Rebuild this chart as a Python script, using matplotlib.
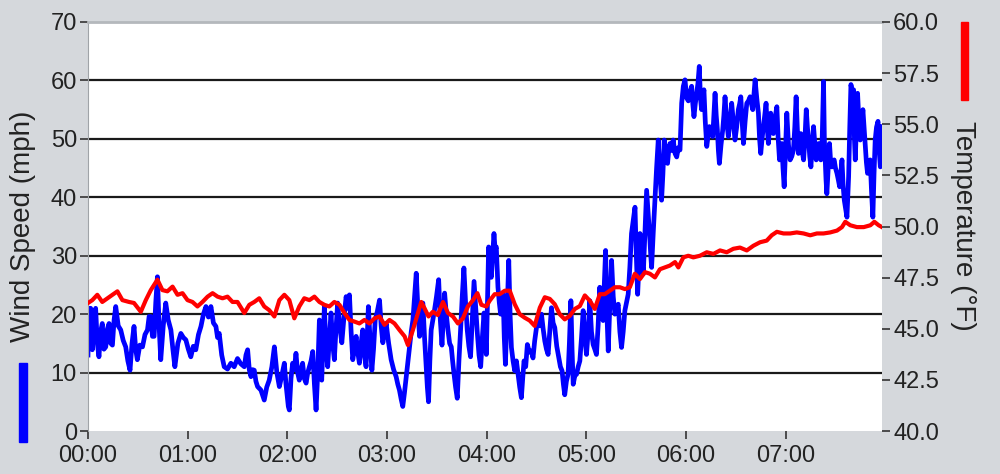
import numpy as np
import matplotlib
matplotlib.use("Agg")
import matplotlib.pyplot as plt
from matplotlib.patches import Rectangle
from matplotlib.ticker import FuncFormatter, MultipleLocator

plt.rcParams['font.family'] = ['Liberation Sans', 'DejaVu Sans']

# wind speed, minutes after 00:00 and mph (turning points)
wind_min = [
    0, 0.6, 1.6, 2.6, 3.6, 4.6, 5.6, 6.6, 7.6, 8.6, 9.6, 10.7, 11.7, 12.7, 13.7, 14.7, 15.7, 16.7,
    18.2, 19.7, 21.2, 22.7, 24.0, 25.3, 26.5, 27.7, 28.7, 29.7, 31.2, 32.8, 34.3, 35.8, 36.8, 37.8,
    38.8, 39.8, 40.8, 41.8, 42.8, 43.8, 45.3, 46.8, 48.3, 49.9, 51.1, 52.3, 54.1, 55.9, 57.4, 58.9,
    60.4, 61.9, 63.4, 64.9, 66.5, 68.0, 69.5, 71.0, 72.5, 74.0, 75.5, 77.0, 78.0, 79.0, 80.5, 82.0,
    84.0, 86.0, 88.0, 90.0, 92.0, 94.1, 95.1, 96.1, 97.1, 98.1, 99.1, 100.1, 101.1, 102.1, 104.1,
    106.1, 107.6, 109.1, 110.7, 112.2, 113.7, 115.2, 116.7, 118.2, 119.2, 120.6,
    121.2, 122.2, 123.2, 124.2, 125.2, 126.2, 127.2, 128.2, 129.2, 130.2, 131.3, 132.3, 133.3,
    134.3, 135.3, 136.3, 137.3, 138.3, 139.3, 140.0, 140.7, 141.5, 142.3, 143.3, 144.3, 145.3,
    146.3, 147.3, 148.3, 149.3, 150.3, 151.5, 152.8, 154.1, 155.4, 156.4, 157.4, 158.4, 159.4,
    160.4, 161.4, 162.4, 163.4, 164.4, 165.4, 166.4, 167.4, 168.1, 168.8, 169.9, 170.9, 171.9,
    172.9, 174.2, 175.5, 176.5, 177.5, 178.5, 179.5, 181.0, 182.5, 184.0, 185.5, 186.5, 187.5,
    188.5, 189.5, 190.5, 191.6, 192.6, 193.6, 194.6, 195.6, 196.6, 197.6, 198.6, 199.6, 200.6,
    201.6, 202.6, 203.6, 204.3, 205.0, 205.8, 206.6, 207.6, 208.6, 209.8, 211.1, 212.1, 213.1,
    213.9, 214.7, 215.7, 216.7, 217.7, 218.7, 219.5, 220.3, 221.3, 222.3, 223.3, 224.3, 225.3,
    226.3, 227.3, 228.3, 229.3, 230.3, 231.3, 232.4, 233.4, 234.4, 235.4, 236.4, 237.4, 238.4,
    239.8, 240.5, 241.2, 242.0, 242.8, 243.6, 244.4, 245.1, 245.8, 246.8, 247.6, 248.4, 249.2,
    249.9, 250.6, 251.3, 252.3, 253.3, 254.1, 254.9, 255.9, 256.9, 257.9, 258.9, 259.9, 260.9,
    261.7, 262.5, 263.5, 264.5, 265.7, 266.9, 267.9, 268.9, 269.9, 270.9, 271.9, 273.0, 274.0,
    275.0, 276.0, 277.0, 278.0, 279.0, 280.0, 281.0, 282.2, 283.4, 284.4, 285.4, 286.2, 287.0,
    288.0, 289.0, 289.8, 290.7, 291.4, 292.1, 293.1, 294.1, 295.1, 296.1, 297.1, 298.1, 299.1,
    300.1, 301.1, 302.1, 303.1, 304.1, 305.1, 306.1, 307.1, 308.1, 309.1, 310.1, 310.8, 311.6,
    312.4, 313.2, 314.2, 315.2, 316.2, 317.2, 318.2, 319.2, 320.2, 321.2, 322.2, 323.2, 324.2,
    325.2, 326.2, 327.2, 328.2, 329.3, 330.1, 330.9, 331.6, 332.3, 333.3, 334.3, 335.3, 336.3,
    337.3, 338.3, 338.8, 339.3, 340.3, 341.3, 342.3, 343.3, 344.3, 345.3, 346.1, 346.9, 347.9,
    348.9, 349.6, 350.3, 351.3, 352.3, 353.4, 354.4, 355.4, 356.4, 357.4, 358.4, 359.4, 360.4,
    361.4, 362.4, 363.4, 364.1, 364.8, 365.6, 366.4, 367.2, 368.0, 368.7, 369.4, 370.1, 370.8,
    371.6, 372.5, 373.3, 374.1, 375.1, 376.1, 376.8, 377.5, 378.2, 378.9, 379.5, 380.1, 381.1,
    382.1, 382.8, 383.5, 384.5, 385.5, 386.5, 387.5, 388.5, 389.5, 390.5, 391.5, 392.3, 393.0,
    393.8, 394.6, 395.6, 396.6, 397.6, 398.6, 399.4, 400.2, 400.9, 401.6, 402.6, 403.6, 404.3,
    405.0, 405.8, 406.6, 407.4, 408.2, 408.9, 409.6, 410.3, 411.0, 411.8, 412.6, 413.6, 414.7,
    415.5, 416.3, 417.0, 417.7, 418.4, 419.1, 419.9, 420.7, 421.7, 422.7, 423.7, 424.7, 425.5,
    426.3, 427.0, 427.7, 428.4, 429.1, 429.9, 430.8, 431.6, 432.4, 433.1, 433.8, 434.5, 435.2,
    436.0, 436.8, 437.6, 438.4, 439.1, 439.8, 440.5, 441.2, 442.0, 442.8, 443.3, 443.8, 444.3,
    444.8, 445.6, 446.4, 447.1, 447.8, 448.5, 449.2, 450.0, 450.9, 451.7, 452.5, 453.2, 453.9,
    454.6, 455.3, 456.1, 456.9, 457.4, 457.9, 458.6, 459.3, 460.1, 460.9, 461.4, 461.9, 462.6,
    463.3, 464.1, 464.9, 465.7, 466.5, 467.2, 467.9, 468.6, 469.3, 470.1, 470.9, 471.7, 472.5,
    473.2, 473.9, 474.7, 475.6, 476.3, 477.0, 477.6,
]
wind_mph = [
    13.0, 21.0, 21.0, 13.9, 19.0, 21.0, 15.0, 12.7, 17.0, 18.4, 14.0, 14.4, 17.5, 18.4, 15.0, 14.7, 19.0, 21.3,
    18.0, 17.3, 15.5, 14.4, 12.0, 10.4, 15.0, 17.9, 14.0, 12.2, 14.7, 14.4, 16.5, 17.3, 19.6, 19.6,
    16.2, 16.2, 22.0, 26.4, 18.0, 12.2, 18.0, 21.9, 19.0, 17.3, 14.0, 11.0, 15.0, 16.7, 16.0, 15.6,
    14.0, 12.7, 14.5, 13.9, 16.5, 17.9, 20.0, 21.3, 19.5, 21.3, 18.5, 17.9, 16.0, 16.7, 13.0, 11.0,
    10.6, 11.6, 11.0, 12.4, 11.5, 11.0, 13.0, 13.9, 10.5, 9.3, 10.5, 10.4, 8.5, 7.6, 7.0,
    5.3, 7.5, 8.7, 11.0, 14.4, 10.0, 7.6, 9.5, 11.6, 8.0, 4.2,
    3.6, 9.0, 11.6, 10.5, 13.3, 10.0, 8.7, 10.5, 11.6, 9.0, 8.2, 10.0, 11.0,
    12.0, 13.6, 8.0, 3.6, 10.0, 19.0, 12.0, 8.7, 15.0, 21.3, 14.0, 11.0, 16.0,
    20.2, 15.0, 12.2, 17.5, 21.9, 18.0, 15.1, 19.5, 23.0, 21.0, 23.3, 17.0, 12.2,
    14.0, 16.2, 13.5, 11.6, 15.0, 17.3, 13.0, 11.0, 16.0, 21.3, 15.0, 10.4, 14.0,
    19.0, 20.5, 22.4, 18.0, 15.1, 17.0, 18.4, 15.0, 12.2, 10.5, 9.3, 8.0, 7.0,
    5.5, 4.2, 6.5, 9.3, 12.0, 14.4, 17.0, 19.0, 23.0, 27.0, 21.0, 16.2, 19.0,
    21.9, 16.0, 11.0, 7.5, 5.0, 12.0, 17.3, 19.0, 20.7, 23.0, 25.9, 19.0, 14.7,
    19.0, 23.6, 20.0, 17.3, 15.0, 14.4, 12.0, 9.9, 7.5, 5.6, 12.0, 17.3, 23.0,
    27.9, 22.0, 17.3, 14.5, 12.7, 19.0, 25.6, 21.0, 16.7, 13.0, 11.0, 16.0, 20.2,
    13.1, 22.0, 31.5, 28.0, 26.3, 30.0, 33.8, 31.0, 31.5, 24.6, 22.0, 20.0, 22.5,
    23.4, 16.0, 11.4, 20.0, 29.2, 20.0, 14.3, 12.0, 10.3, 12.0, 9.7, 7.5, 5.7,
    9.0, 12.0, 11.0, 14.8, 13.5, 13.7, 12.5, 15.4, 17.5, 19.4, 18.0, 20.0, 17.5,
    15.4, 14.0, 13.1, 17.0, 21.1, 18.5, 17.7, 14.5, 12.6, 11.0, 10.3, 8.0, 6.2,
    8.5, 9.7, 15.0, 22.3, 14.0, 8.0, 9.5, 9.7, 11.0, 12.0, 16.0, 20.6, 16.0,
    13.1, 17.0, 22.3, 17.0, 14.8, 14.0, 13.1, 18.0, 24.6, 21.0, 18.9, 25.0, 30.9,
    20.0, 13.7, 22.0, 29.2, 23.0, 20.0, 21.0, 21.7, 17.0, 14.3, 17.0, 20.6, 22.0,
    23.4, 28.0, 33.8, 36.0, 38.3, 30.0, 23.4, 28.0, 33.8, 30.0, 26.9, 34.0, 41.2,
    37.0, 32.6, 30.0, 28.0, 34.0, 39.5, 45.0, 49.8, 44.0, 39.5, 44.0, 49.8, 47.0,
    45.8, 48.0, 49.2, 48.0, 49.8, 47.5, 46.9, 48.5, 48.1, 56.1, 59.0, 60.1, 57.0,
    56.5, 58.0, 59.0, 56.0, 53.8, 56.0, 57.8, 59.5, 62.4, 57.0, 55.0, 57.0, 58.4,
    53.0, 48.7, 50.5, 52.1, 51.0, 50.4, 54.0, 57.8, 54.0, 51.5, 48.0, 45.8, 49.0,
    51.5, 54.0, 57.2, 53.0, 50.4, 53.0, 56.1, 53.0, 49.8, 52.0, 55.0, 56.0, 57.2,
    53.0, 49.2, 53.0, 56.1, 56.5, 57.2, 56.0, 55.0, 57.5, 60.1, 57.0, 54.4, 50.0,
    47.5, 50.0, 52.1, 54.0, 56.1, 52.0, 49.2, 52.0, 54.4, 52.0, 50.9, 53.5, 55.5,
    50.0, 46.4, 48.0, 49.2, 45.0, 41.8, 48.0, 54.4, 49.0, 46.4, 47.0, 48.1, 52.0,
    57.2, 52.0, 47.5, 49.0, 50.9, 48.0, 46.4, 50.0, 55.0, 52.0, 49.8, 47.0, 45.2,
    49.0, 52.1, 49.0, 46.4, 48.0, 49.2, 47.0, 46.4, 50.0, 59.8, 50.0, 46.4, 43.0,
    40.6, 45.0, 49.2, 46.0, 45.2, 46.0, 46.4, 45.0, 44.1, 43.0, 41.8, 44.0, 46.4,
    42.0, 39.5, 38.0, 36.6, 40.0, 43.5, 52.0, 59.3, 58.0, 58.4, 50.0, 46.4, 52.0,
    57.8, 53.0, 49.8, 52.0, 55.0, 52.0, 49.2, 46.0, 44.1, 45.0, 46.4, 41.0, 36.6,
    44.0, 49.8, 52.0, 53.0, 48.0, 45.2, 52.1,
]

# temperature, minutes after 00:00 and deg F
temp_min = [
    0, 2.6, 5.6, 8.6, 11.7, 14.7, 17.7, 20.7, 24.7, 27.7, 31.8, 34.8, 37.8, 41.8, 44.8, 47.8,
    50.9, 53.9, 56.9, 59.9, 62.9, 65.9, 68.9, 72.0, 75.0, 78.0, 81.0, 84.0, 87.0, 90.0, 94.1,
    97.1, 100.1, 103.1, 106.1, 109.1, 112.2, 115.2, 118.2, 121.2, 124.2, 127.2, 130.2, 133.3,
    136.3, 139.3, 142.3, 145.3, 148.3, 151.4, 154.4, 157.4, 160.4, 163.4, 166.4, 169.4, 172.5,
    175.5, 178.5, 181.5, 184.5, 187.5, 190.6, 192.6, 195.6, 198.6, 200.6, 202.6, 205.0, 207.6,
    210.6, 213.7, 216.7, 219.7, 222.7, 225.7, 228.7, 231.8, 234.4, 236.8, 239.8, 241.8, 244.8,
    247.8, 250.9, 253.9, 256.9, 259.9, 262.9, 265.9, 268.9, 272.0, 275.0, 278.0, 281.0, 284.0,
    287.0, 290.0, 293.1, 296.1, 299.1, 302.1, 305.1, 308.1, 311.1, 314.1, 317.2, 320.2, 323.2,
    326.2, 329.2, 332.3, 335.3, 338.3, 341.3, 344.3, 347.3, 350.3, 353.4, 355.4, 358.4, 361.4,
    364.4, 368.4, 372.5, 376.5, 380.5, 384.5, 388.5, 392.5, 396.6, 400.6, 404.6, 408.6, 411.6,
    414.7, 418.7, 422.7, 426.7, 430.8, 434.8, 438.8, 442.8, 446.8, 450.9, 453.9, 455.9, 458.9,
    462.9, 467.0, 471.0, 473.4, 476.0, 478.0,
]
temp_f = [
    46.26, 46.40, 46.66, 46.31, 46.49, 46.66, 46.83, 46.40, 46.31, 46.26, 45.83, 46.40, 46.89, 47.40, 46.89, 46.83,
    47.06, 46.66, 46.74, 46.40, 46.31, 46.09, 46.31, 46.57, 46.74, 46.57, 46.49, 46.57, 46.31, 46.31, 45.77,
    46.17, 46.31, 46.49, 46.09, 45.91, 45.60, 46.40, 46.66, 46.40, 45.51, 46.09, 46.49, 46.40,
    46.57, 46.31, 46.17, 46.09, 46.31, 46.17, 45.77, 45.43, 45.35, 45.26, 45.43, 45.26, 45.51,
    45.60, 45.19, 45.43, 45.26, 44.94, 44.63, 44.20, 44.94, 45.77, 46.31, 46.00, 45.60, 45.83,
    45.67, 46.31, 45.77, 45.60, 45.26, 45.51, 46.09, 46.40, 46.74, 46.17, 46.09, 46.37, 46.69,
    46.69, 46.86, 46.86, 46.20, 45.71, 45.54, 45.40, 45.14, 46.03, 46.54, 46.46, 46.20, 45.71,
    45.46, 45.63, 45.97, 46.11, 46.63, 46.37, 45.97, 46.69, 46.69, 46.86, 47.03, 47.03, 46.94,
    47.03, 47.69, 47.43, 47.77, 47.69, 47.51, 47.91, 48.00, 48.09, 48.26, 48.00, 48.49, 48.57,
    48.49, 48.57, 48.74, 48.66, 48.83, 48.74, 48.91, 48.97, 48.83, 49.06, 49.23, 49.31, 49.57,
    49.74, 49.66, 49.66, 49.71, 49.66, 49.57, 49.66, 49.66, 49.71, 49.80, 49.97, 50.23, 50.06,
    49.97, 49.97, 50.06, 50.23, 50.06, 49.97,
]

wind_ticks = [0, 10, 20, 30, 40, 50, 60, 70]
temp_ticks = [40.0, 42.5, 45.0, 47.5, 50.0, 52.5, 55.0, 57.5, 60.0]
hour_ticks = [0, 60, 120, 180, 240, 300, 360, 420]

bg = '#d5d8dc'
txt = '#222222'

fig = plt.figure(figsize=(10, 4.74), dpi=100, facecolor=bg)
ax = fig.add_axes([0.088, 0.0907, 0.794, 0.8629])
ax.set_facecolor('white')

ax.plot(wind_min, wind_mph, color='#0000ff', linewidth=3.4, solid_joinstyle='round')
ax.set_xlim(0, 478)
ax.set_ylim(0, 70)
ax.set_yticks(wind_ticks)
ax.set_xticks(hour_ticks)
ax.xaxis.set_major_formatter(FuncFormatter(lambda v, p: '%02d:%02d' % (v // 60, v % 60)))

# horizontal grid only, no line on 0 and 70
for g in wind_ticks[1:-1]:
    ax.axhline(g, color='#1a1a1a', linewidth=1.6, zorder=0.5)

for s in ['right', 'bottom']:
    ax.spines[s].set_visible(False)
ax.spines['left'].set_color('#a0a4a8')
ax.spines['top'].set_color('#b4b8bc')
ax.spines['top'].set_linewidth(2)
ax.tick_params(axis='both', direction='out', length=6, width=1.2, color='#333333',
               labelsize=17, labelcolor=txt, pad=2)
ax.tick_params(axis='x', pad=4)

ax2 = ax.twinx()
ax2.plot(temp_min, temp_f, color='#ff0000', linewidth=3.0)
ax2.set_ylim(40, 60)
ax2.set_yticks(temp_ticks)
ax2.yaxis.set_major_formatter(FuncFormatter(lambda v, p: '%.1f' % v))
for s in ax2.spines.values():
    s.set_visible(False)
ax2.tick_params(axis='y', direction='out', length=6, width=1.2, color='#333333',
                labelsize=17, labelcolor=txt, pad=2)

# axis titles with the coloured series keys
fig.text(0.023, 0.523, 'Wind Speed (mph)', rotation=90, ha='center', va='center',
         fontsize=20, color=txt)
fig.text(0.963, 0.523, 'Temperature (°F)', rotation=270, ha='center', va='center',
         fontsize=20, color=txt)
fig.add_artist(Rectangle((0.019, 1 - 442 / 474), 0.008, 79 / 474, transform=fig.transFigure,
                         color='#0000ff'))
fig.add_artist(Rectangle((0.961, 1 - 100 / 474), 0.007, 78 / 474, transform=fig.transFigure,
                         color='#ff0000'))

fig.savefig('out.png', dpi=100, facecolor=bg)
